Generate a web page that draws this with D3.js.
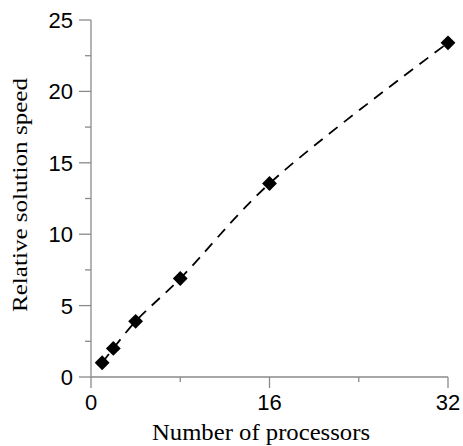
<!DOCTYPE html>
<html>
<head>
<meta charset="utf-8">
<script src="https://cdn.jsdelivr.net/npm/d3@7.9.0/dist/d3.min.js"></script>
<style>
  body { margin: 0; background: #fff; }
  svg { display: block; }
</style>
</head>
<body>
<svg width="463" height="446"></svg>
<script>
// chart data
const processors = [1, 2, 4, 8, 16, 32];
const speeds = [1.0, 2.0, 3.9, 6.9, 13.55, 23.4];
const xTicks = [0, 8, 16, 24, 32];
const xLabels = ['0', '', '16', '', '32'];
const yTicks = [0, 2.5, 5, 7.5, 10, 12.5, 15, 17.5, 20, 22.5, 25];

const svg = d3.select('svg');
const axisColor = '#8a8a8a';

const x = d3.scaleLinear().domain([0, 32]).range([91, 448]);
const y = d3.scaleLinear().domain([0, 25]).range([377, 20]);

// y axis
svg.append('line')
  .attr('x1', x(0)).attr('x2', x(0))
  .attr('y1', y(0)).attr('y2', y(25))
  .attr('stroke', axisColor).attr('stroke-width', 1.3);

yTicks.forEach((t, i) => {
  let major = i % 2 === 0;
  svg.append('line')
    .attr('x1', x(0) - (major ? 12 : 6)).attr('x2', x(0))
    .attr('y1', y(t)).attr('y2', y(t))
    .attr('stroke', axisColor).attr('stroke-width', 1.3);
  if (major) {
    svg.append('text')
      .attr('x', 73).attr('y', y(t))
      .attr('dy', '0.36em')
      .attr('text-anchor', 'end')
      .attr('font-family', 'Liberation Sans, Arial, sans-serif')
      .attr('font-size', 22)
      .text(t);
  }
});

// x axis
svg.append('line')
  .attr('x1', x(0)).attr('x2', x(32))
  .attr('y1', y(0)).attr('y2', y(0))
  .attr('stroke', axisColor).attr('stroke-width', 1.3);

xTicks.forEach((t, i) => {
  let major = xLabels[i] !== '';
  svg.append('line')
    .attr('x1', x(t)).attr('x2', x(t))
    .attr('y1', y(0)).attr('y2', y(0) + (major ? 11 : 5))
    .attr('stroke', axisColor).attr('stroke-width', 1.3);
  if (major) {
    svg.append('text')
      .attr('x', x(t)).attr('y', 410)
      .attr('text-anchor', 'middle')
      .attr('font-family', 'Liberation Sans, Arial, sans-serif')
      .attr('font-size', 22)
      .text(xLabels[i]);
  }
});

// axis titles
svg.append('text')
  .attr('x', 152).attr('y', 440)
  .attr('font-family', 'Liberation Serif, Times New Roman, serif')
  .attr('font-size', 23)
  .attr('textLength', 218)
  .attr('lengthAdjust', 'spacingAndGlyphs')
  .text('Number of processors');

svg.append('text')
  .attr('transform', 'translate(27,312) rotate(-90)')
  .attr('font-family', 'Liberation Serif, Times New Roman, serif')
  .attr('font-size', 20.5)
  .attr('textLength', 234)
  .attr('lengthAdjust', 'spacingAndGlyphs')
  .text('Relative solution speed');

// dashed line
const points = processors.map((p, i) => [p, speeds[i]]);
const line = d3.line()
  .x(d => x(d[0]))
  .y(d => y(d[1]))
  .curve(d3.curveCatmullRom);

svg.append('path')
  .attr('d', line(points))
  .attr('fill', 'none')
  .attr('stroke', '#000')
  .attr('stroke-width', 1.8)
  .attr('stroke-dasharray', '11,8');

// diamond markers
const diamond = d3.symbol().type(d3.symbolSquare).size(110);
points.forEach(d => {
  svg.append('path')
    .attr('d', diamond())
    .attr('transform', `translate(${x(d[0])},${y(d[1])}) rotate(45)`)
    .attr('fill', '#000');
});
</script>
</body>
</html>
